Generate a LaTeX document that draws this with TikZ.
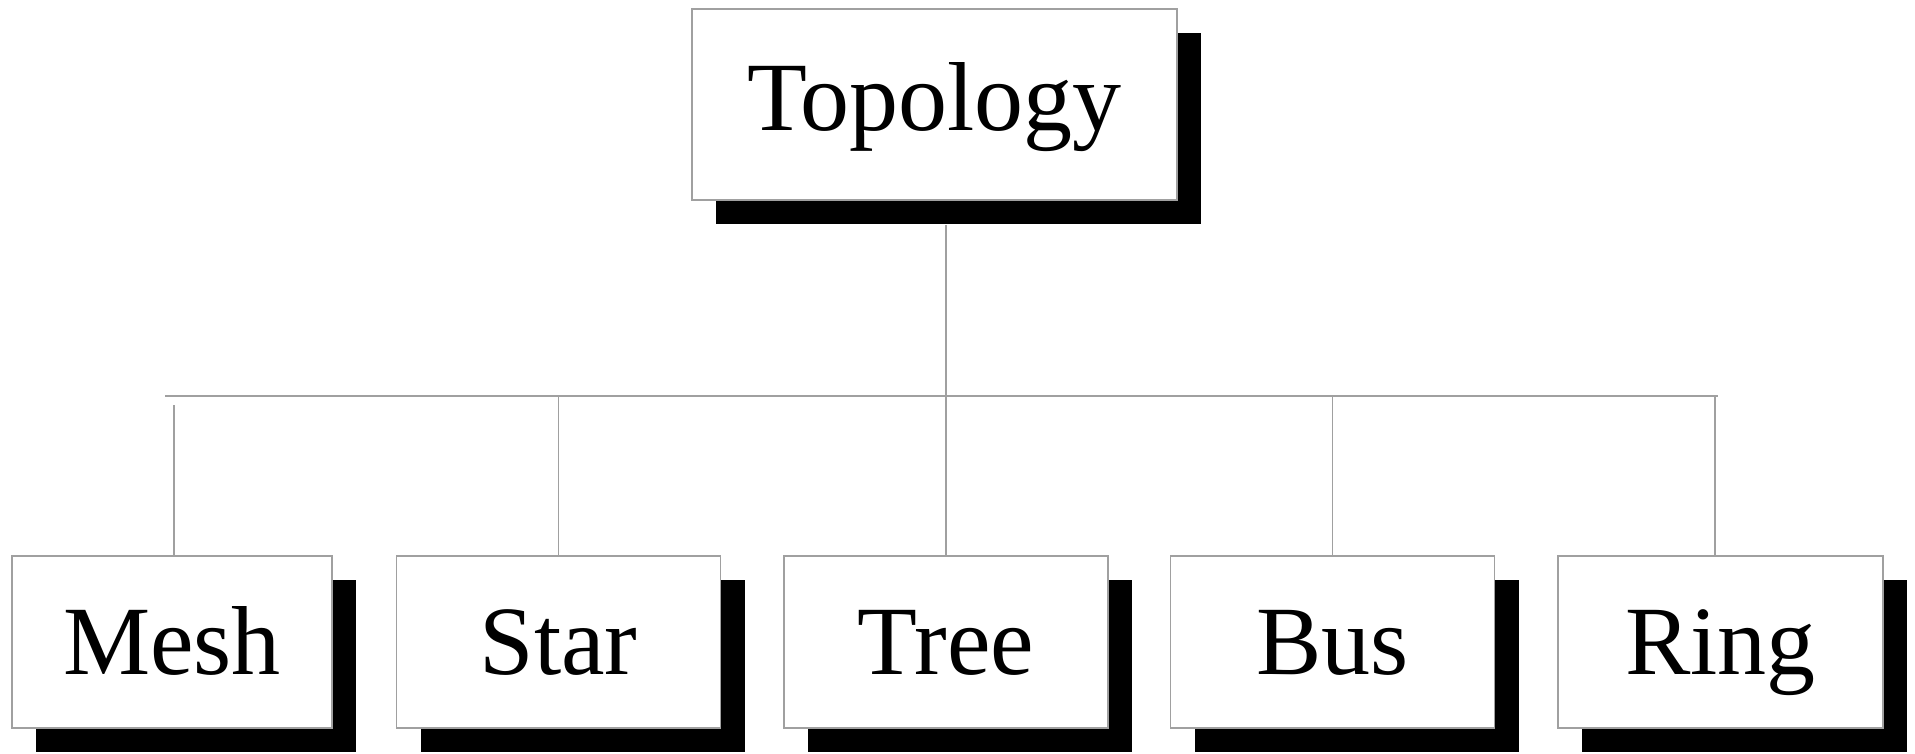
\documentclass[tikz,border=0pt]{standalone}
\usepackage{fontspec}
\setmainfont{Liberation Serif}
\usetikzlibrary{shadows,calc}
\definecolor{linegray}{RGB}{160,160,160}
\begin{document}
\begin{tikzpicture}[x=1pt,y=-1pt,
  boxstyle/.style={draw=linegray,line width=1.5pt,fill=white,rectangle,inner sep=0pt,
    minimum width=324pt,minimum height=172pt,
    font=\fontsize{98}{98}\selectfont,text height=65pt,text depth=0pt,
    drop shadow={shadow xshift=24pt,shadow yshift=-24pt,fill=black,opacity=1}},
  linkstyle/.style={draw=linegray,line width=1.5pt}]
\useasboundingbox (0,0) rectangle (1915,753);
\node[boxstyle,minimum width=485pt,minimum height=191pt,text depth=14pt] (top) at (934.5,104.5) {Topology};
\node[boxstyle,minimum width=320pt] (mesh) at (172,642) {Mesh};
\node[boxstyle] (star) at (558.5,642) {Star};
\node[boxstyle] (tree) at (946,642) {Tree};
\node[boxstyle] (bus) at (1332.5,642) {Bus};
\node[boxstyle,minimum width=325pt] (ring) at (1720.5,642) {Ring};
\coordinate (hl) at (165,396);
\coordinate (hr) at (1718,396);
\coordinate (meshtop) at (174,405);
\coordinate (ringtop) at (1715,396);
\draw[linkstyle] (hl) -- (hr);
\draw[linkstyle] (top.south -| tree.north) ++(0,24) -- (tree.north |- hl) -- (tree.north);
\draw[linkstyle] (meshtop) -- (meshtop |- mesh.north);
\draw[linkstyle] (star.north |- hl) -- (star.north);
\draw[linkstyle] (bus.north |- hl) -- (bus.north);
\draw[linkstyle] (ringtop) -- (ringtop |- ring.north);
\end{tikzpicture}
\end{document}
